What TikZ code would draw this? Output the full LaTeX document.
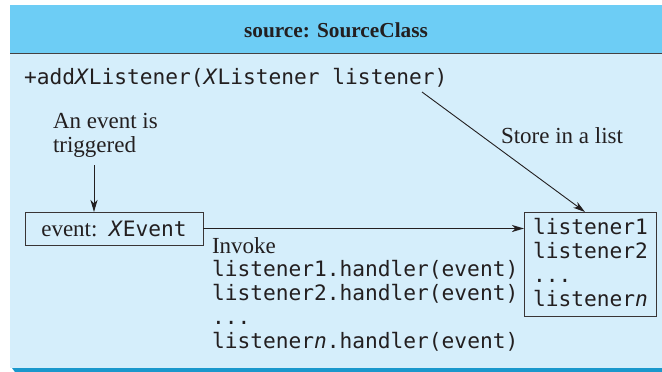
\documentclass[tikz,border=0pt]{standalone}
\usepackage{fontspec}
\setmainfont{Liberation Serif}
\newfontfamily\codefont{DejaVu Sans Mono}
\usetikzlibrary{arrows.meta}
\definecolor{hdr}{HTML}{6DCDF5}
\definecolor{bdy}{HTML}{D5EEFB}
\definecolor{barc}{HTML}{1A98CC}
\definecolor{ink}{HTML}{231F20}
\begin{document}
\begin{tikzpicture}[x=1pt,y=-1pt,
  every node/.style={inner sep=0pt, outer sep=0pt, text=ink},
  serif/.style={font=\fontsize{23}{24}\selectfont},
  code/.style={font=\codefont\fontsize{21.2}{23.7}\selectfont},
  box/.style={draw=ink!90, line width=0.9pt},
  arr/.style={draw=ink, line width=0.9pt, -{Stealth[length=12pt,width=7pt,inset=3.5pt]}}]
\useasboundingbox (0,0) rectangle (662,372);
\fill[white] (0,0) rectangle (662,372);
\fill[bdy] (10,54) rectangle (662,368);
\fill[hdr] (10,5) rectangle (662,53);
\draw[ink!85, line width=1.6pt] (10,53.3) -- (662,53.3);
\fill[barc] (12,368) -- (662,368) -- (662,372) -- (15,372) -- cycle;
% title
\node[font=\bfseries\fontsize{21.3}{23}\selectfont, anchor=base] (title) at (336,37) {source: SourceClass};
% method
\node[code, anchor=base west] (add) at (24,84) {+add\textit{X}Listener(\textit{X}Listener listener)};
\coordinate (addtail) at (422,92);
% triggered (base = last line)
\node[serif, align=left, anchor=base west] (trig) at (53,152) {An event is\\triggered};
\coordinate (trigtail) at (94,165);
% event box
\node[box, minimum width=178pt, minimum height=33pt, font=\fontsize{23}{24}\selectfont] (event) at (114,228.5) {event:\ \ {\codefont\fontsize{21.2}{23.7}\selectfont\textit{X}Event}};
% listeners box
\node[box, anchor=north west, minimum width=132pt, minimum height=104pt] (lst) at (524,212) {};
\node[code, align=left, anchor=base west] (lsttext) at (533,306) {listener1\\listener2\\...\\listener\textit{n}};
\coordinate (storehead) at (585,212);
% store label
\node[serif, anchor=base west] (store) at (501,143) {Store in a list};
% invoke
\node[code, align=left, anchor=base west] (invoke) at (212,348) {{\rmfamily\fontsize{23}{23.7}\selectfont Invoke}\\listener1.handler(event)\\listener2.handler(event)\\...\\listener\textit{n}.handler(event)};
% connectors
\draw[arr] (trigtail) -- (event.north -| trigtail);
\draw[arr, line width=1.8pt] (event.east) -- (lst.west |- event.east);
\draw[arr] (addtail) -- (storehead);
\end{tikzpicture}
\end{document}
